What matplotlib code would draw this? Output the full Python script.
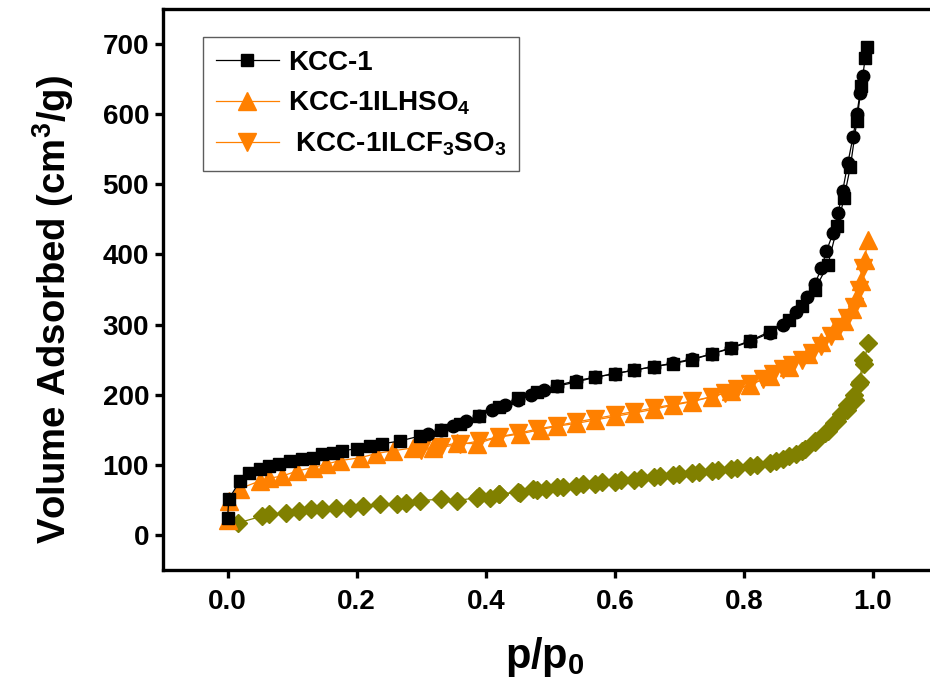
import matplotlib
matplotlib.use("Agg")
import matplotlib.pyplot as plt

plt.rcParams['font.family'] = ['Liberation Sans', 'DejaVu Sans']
plt.rcParams['font.weight'] = 'bold'
plt.rcParams['mathtext.fontset'] = 'custom'
plt.rcParams['mathtext.rm'] = 'Liberation Sans:bold'
plt.rcParams['mathtext.bf'] = 'Liberation Sans:bold'
plt.rcParams['mathtext.it'] = 'Liberation Sans:bold'

# KCC-1 isotherm: adsorption (squares) and desorption (circles)
kcc_ads_p = [0.0, 0.002, 0.019, 0.034, 0.05, 0.065, 0.08, 0.096, 0.116, 0.132, 0.147, 0.163,
             0.178, 0.2, 0.22, 0.24, 0.267, 0.298, 0.33, 0.36, 0.39, 0.42, 0.45, 0.48, 0.51,
             0.54, 0.57, 0.60, 0.63, 0.66, 0.69, 0.72, 0.75, 0.78, 0.81, 0.84, 0.87, 0.89,
             0.91, 0.93, 0.945, 0.955, 0.965, 0.975, 0.982, 0.988, 0.99]
kcc_ads_v = [24, 51, 77, 89, 94, 99, 101, 106, 108, 110, 116, 117,
             120, 123, 127, 130, 134, 141, 150, 158, 170, 183, 195, 204, 212,
             218, 225, 230, 235, 240, 244, 250, 258, 267, 277, 290, 306, 326,
             350, 385, 440, 480, 525, 590, 640, 680, 696]
kcc_des_p = [0.985, 0.98, 0.975, 0.969, 0.961, 0.953, 0.946, 0.938, 0.928, 0.92, 0.91, 0.898,
             0.88, 0.86, 0.84, 0.81, 0.78, 0.75, 0.72, 0.69, 0.66, 0.63, 0.60, 0.57, 0.54,
             0.51, 0.49, 0.47, 0.45, 0.43, 0.41, 0.39, 0.37, 0.35, 0.33, 0.31]
kcc_des_v = [655, 630, 600, 567, 530, 490, 459, 430, 405, 380, 358, 339,
             318, 300, 288, 276, 266, 258, 251, 245, 240, 235, 230, 225, 220,
             213, 207, 200, 193, 185, 178, 170, 163, 156, 150, 144]

# KCC-1ILHSO4 isotherm: up triangles
hso4_ads_p = [0.0, 0.002, 0.019, 0.05, 0.065, 0.085, 0.107, 0.132, 0.153, 0.174, 0.205, 0.23,
              0.256, 0.287, 0.318, 0.355, 0.386, 0.417, 0.453, 0.484, 0.51, 0.54, 0.57, 0.60,
              0.63, 0.66, 0.69, 0.72, 0.75, 0.78, 0.81, 0.84, 0.87, 0.9, 0.92, 0.94, 0.955,
              0.968, 0.976, 0.982, 0.987, 0.992]
hso4_ads_v = [21, 49, 66, 77, 81, 84, 91, 96, 101, 106, 110, 116,
              120, 124, 124, 131, 130, 139, 144, 150, 155, 159, 164, 169,
              174, 179, 185, 190, 197, 205, 214, 226, 240, 258, 275, 292, 305,
              322, 340, 362, 392, 420]
# KCC-1ILCF3SO3 isotherm: down triangles
cf3_p = [0.985, 0.978, 0.97, 0.96, 0.948, 0.935, 0.92, 0.905, 0.89, 0.875, 0.86, 0.845,
         0.83, 0.81, 0.79, 0.77, 0.75, 0.72, 0.69, 0.66, 0.63, 0.60, 0.57, 0.54, 0.51,
         0.48, 0.45, 0.42, 0.39, 0.36, 0.33, 0.30]
cf3_v = [380, 350, 325, 310, 296, 283, 270, 260, 250, 243, 236, 229,
         222, 215, 208, 202, 197, 191, 186, 181, 176, 171, 166, 161, 156,
         151, 145, 140, 134, 129, 125, 121]

# Unlabelled olive isotherm (diamonds)
olive_ads_p = [0.016, 0.054, 0.065, 0.09, 0.11, 0.13, 0.147, 0.168, 0.19, 0.21, 0.236, 0.262,
               0.277, 0.298, 0.33, 0.355, 0.386, 0.406, 0.42, 0.453, 0.473, 0.494, 0.52, 0.55,
               0.58, 0.61, 0.64, 0.67, 0.70, 0.73, 0.76, 0.79, 0.82, 0.85, 0.87, 0.89, 0.91,
               0.93, 0.945, 0.96, 0.972, 0.98, 0.986, 0.992]
olive_ads_v = [17, 27, 30, 31, 34, 37, 37, 39, 39, 41, 44, 44,
               46, 49, 51, 49, 53, 53, 59, 60, 66, 66, 69, 72,
               75, 78, 81, 84, 87, 90, 93, 96, 100, 106, 112, 120, 132,
               148, 163, 178, 192, 218, 244, 273]
olive_des_p = [0.985, 0.978, 0.97, 0.96, 0.95, 0.94, 0.925, 0.91, 0.895, 0.88, 0.86, 0.84,
               0.81, 0.78, 0.75, 0.72, 0.69, 0.66, 0.63, 0.60, 0.57, 0.54, 0.51, 0.48,
               0.45, 0.42, 0.39]
olive_des_v = [250, 215, 200, 185, 172, 160, 146, 134, 123, 116, 108, 102,
               98, 94, 91, 88, 85, 82, 79, 76, 73, 70, 68, 64,
               61, 58, 55]

x_ticks = [0.0, 0.2, 0.4, 0.6, 0.8, 1.0]
y_ticks = [0, 100, 200, 300, 400, 500, 600, 700]

BLACK = '#000000'
ORANGE = '#FF8000'
OLIVE = '#808000'

fig = plt.figure(figsize=(9.30, 6.86), dpi=100)
ax = fig.add_axes([163 / 930, 116 / 686, 774.5 / 930, 561 / 686])

lw = 0.9
ax.plot(olive_ads_p, olive_ads_v, color=OLIVE, marker='D', ms=9.5, lw=lw)
ax.plot(olive_des_p, olive_des_v, color=OLIVE, marker='D', ms=9.5, lw=lw)
ax.plot(cf3_p, cf3_v, color=ORANGE, marker='v', ms=12.5, lw=lw,
        label=r' KCC-1ILCF$_\mathbf{3}$SO$_\mathbf{3}$')
ax.plot(hso4_ads_p, hso4_ads_v, color=ORANGE, marker='^', ms=12.5, lw=lw,
        label=r'KCC-1ILHSO$_\mathbf{4}$')
ax.plot(kcc_des_p, kcc_des_v, color=BLACK, marker='o', ms=9, lw=lw)
ax.plot(kcc_ads_p, kcc_ads_v, color=BLACK, marker='s', ms=8.5, lw=lw, label='KCC-1')

ax.set_xlim(-0.1, 1.1)
ax.set_ylim(-50, 750)
ax.set_xticks(x_ticks)
ax.set_xticklabels([f'{t:.1f}' for t in x_ticks])
ax.set_yticks(y_ticks)
ax.set_yticklabels([str(t) for t in y_ticks])

for s in ax.spines.values():
    s.set_linewidth(2.4)
ax.tick_params(axis='both', which='both', direction='out', length=6, width=2.4,
               labelsize=20, top=False, right=False)
ax.tick_params(axis='x', pad=8)
ax.tick_params(axis='y', pad=4)
for lab in ax.get_xticklabels() + ax.get_yticklabels():
    lab.set_fontweight('bold')

ax.set_xlabel(r'p/p$_\mathbf{0}$', fontsize=30, fontweight='bold')
ax.set_ylabel(r'Volume Adsorbed (cm$^\mathbf{3}$/g)', fontsize=27.5, fontweight='bold')
ax.xaxis.set_label_coords((545 - 163) / 774.5, -0.115)
ax.yaxis.set_label_coords(-(163 - 76) / 774.5, (570 - 310) / 561)

handles, labels = ax.get_legend_handles_labels()
order = [2, 1, 0]
leg = ax.legend([handles[i] for i in order], [labels[i] for i in order],
                loc='upper left', bbox_to_anchor=(40 / 774.5, 1 - 28 / 561),
                prop={'weight': 'bold', 'size': 20}, frameon=True, fancybox=False,
                edgecolor='#333333', handlelength=2.3, borderpad=0.45, labelspacing=0.5,
                handletextpad=0.3, borderaxespad=0.0)
leg.get_frame().set_linewidth(1.0)

fig.savefig('out.png', dpi=100)
